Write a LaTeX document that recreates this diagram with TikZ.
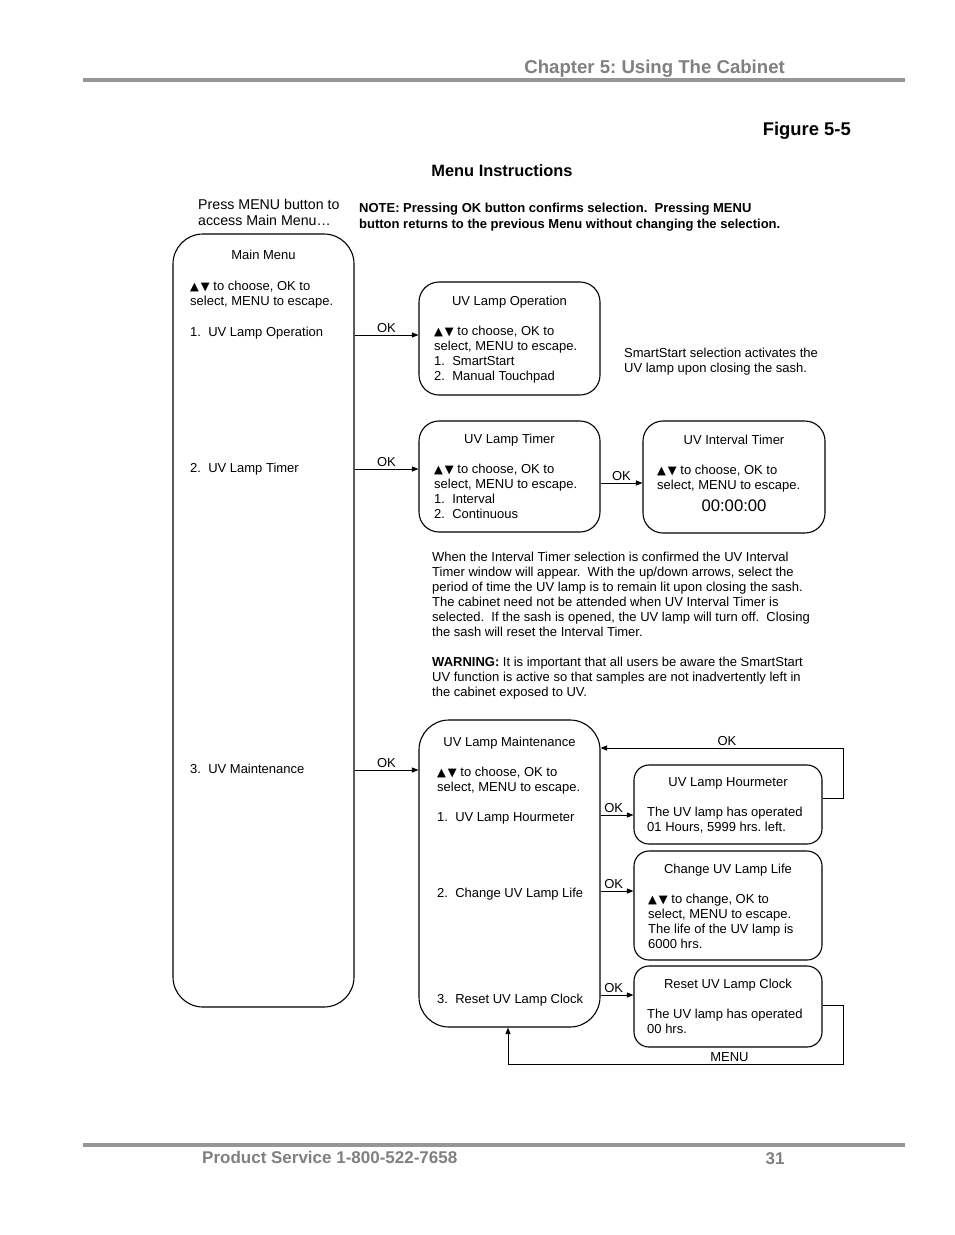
\documentclass[tikz,border=0pt]{standalone}
\usepackage{fontspec}
\setmainfont{Liberation Sans}
\newfontfamily\symfont{DejaVu Sans}
\usetikzlibrary{positioning}
\usetikzlibrary{arrows.meta}
\frenchspacing

\definecolor{pagegray}{RGB}{128,128,128}
\definecolor{rulegray}{RGB}{150,150,150}

\newcommand{\updown}{{\symfont\fontsize{11.5}{15}\selectfont ▲\,▼}}

\tikzset{
	menubox/.style = {draw, line width = 1.1pt, inner sep = 0pt, rounded corners = 20pt},
	boxtitle/.style = {font = \fontsize{13}{15}\selectfont, inner sep = 0pt, anchor = base},
	boxtext/.style = {font = \fontsize{13}{15}\selectfont, inner sep = 0pt, align = left, anchor = base west},
	okarrow/.style = {line width = 0.9pt, -{Triangle[length = 6.5pt, width = 5pt]}},
	oklabel/.style = {font = \fontsize{13}{15}\selectfont, inner sep = 2pt}
}

\begin{document}
\begin{tikzpicture}[x = 1pt, y = -1pt]
					\useasboundingbox [fill = white] (0, 0) rectangle (954, 1235);
					% page head and foot (multi-line texts sit on their last baseline)
					\node (chapter) at (785, 73) [anchor = base east, text = pagegray, font = \bfseries\fontsize{18.6}{20}\selectfont, inner sep = 0pt] {Chapter 5: Using The Cabinet};
					\draw [rulegray, line width = 4pt] (83, 80) -- (905, 80);
					\draw [rulegray, line width = 4pt] (83, 1145) -- (905, 1145);
					\node (service) at (202, 1163) [anchor = base west, text = pagegray, font = \bfseries\fontsize{17}{19}\selectfont, inner sep = 0pt] {Product Service 1-800-522-7658};
					\node (page) at (775, 1164) [anchor = base, text = pagegray, font = \bfseries\fontsize{17}{19}\selectfont, inner sep = 0pt] {31};
					\node (figure) at (851, 135) [anchor = base east, font = \bfseries\fontsize{18.4}{20}\selectfont, inner sep = 0pt] {Figure 5-5};
					\node (heading) at (502, 176) [anchor = base, font = \bfseries\fontsize{16.4}{18}\selectfont, inner sep = 0pt] {Menu Instructions};
					\node (press) at (198, 225) [anchor = base west, align = left, font = \fontsize{14.2}{16}\selectfont, inner sep = 0pt] {Press MENU button to\\access Main Menu\ldots};
					\node (note) at (359, 228) [anchor = base west, align = left, font = \bfseries\fontsize{13}{16}\selectfont, inner sep = 0pt] {NOTE: Pressing OK button confirms selection.\ \ Pressing MENU\\button returns to the previous Menu without changing the selection.};

					% main menu
					\node (main) at (263.5, 620.5) [menubox, rounded corners = 30pt, minimum width = 181pt, minimum height = 773pt] {};
					\node (maintitle) at (263.5, 259.5) [boxtitle] {Main Menu};
					\node (maintext) at (190, 305) [boxtext] {\updown\ to choose, OK to\\select, MENU to escape.};
					\node (mainone) at (190, 336) [boxtext] {1.\ \ UV Lamp Operation};
					\node (maintwo) at (190, 472) [boxtext] {2.\ \ UV Lamp Timer};
					\node (mainthree) at (190, 773) [boxtext] {3.\ \ UV Maintenance};

					% uv lamp operation
					\node (operation) at (509.5, 338.5) [menubox, minimum width = 181pt, minimum height = 113pt] {};
					\node (optitle) at (509.5, 305) [boxtitle] {UV Lamp Operation};
					\node (optext) at (434, 380) [boxtext] {\updown\ to choose, OK to\\select, MENU to escape.\\1.\ \ SmartStart\\2.\ \ Manual Touchpad};
					\node (smartnote) at (624, 372) [boxtext] {SmartStart selection activates the\\UV lamp upon closing the sash.};

					% uv lamp timer
					\node (timer) at (509.5, 476.5) [menubox, minimum width = 181pt, minimum height = 111pt] {};
					\node (timertitle) at (509.5, 443) [boxtitle] {UV Lamp Timer};
					\node (timertext) at (434, 518) [boxtext] {\updown\ to choose, OK to\\select, MENU to escape.\\1.\ \ Interval\\2.\ \ Continuous};
					\node (interval) at (734, 477) [menubox, minimum width = 182pt, minimum height = 112pt] {};
					\node (intervaltitle) at (734, 444) [boxtitle] {UV Interval Timer};
					\node (intervaltext) at (657, 489) [boxtext] {\updown\ to choose, OK to\\select, MENU to escape.};
					\node (clock) at (734, 511) [boxtitle, font = \fontsize{16.7}{18}\selectfont] {00:00:00};
					\node (intervalnote) at (432, 636) [boxtext] {When the Interval Timer selection is confirmed the UV Interval\\Timer window will appear.\ \ With the up/down arrows, select the\\period of time the UV lamp is to remain lit upon closing the sash.\\The cabinet need not be attended when UV Interval Timer is\\selected.\ \ If the sash is opened, the UV lamp will turn off.\ \ Closing\\the sash will reset the Interval Timer.};
					\node (warning) at (432, 696) [boxtext] {\textbf{WARNING:} It is important that all users be aware the SmartStart\\UV function is active so that samples are not inadvertently left in\\the cabinet exposed to UV.};

					% uv lamp maintenance
					\node (maint) at (509.5, 873.5) [menubox, rounded corners = 30pt, minimum width = 181pt, minimum height = 307pt] {};
					\node (mainttitle) at (509.5, 746) [boxtitle] {UV Lamp Maintenance};
					\node (mainttext) at (437, 791) [boxtext] {\updown\ to choose, OK to\\select, MENU to escape.};
					\node (maintone) at (437, 821) [boxtext] {1.\ \ UV Lamp Hourmeter};
					\node (mainttwo) at (437, 897) [boxtext] {2.\ \ Change UV Lamp Life};
					\node (maintthree) at (437, 1003) [boxtext] {3.\ \ Reset UV Lamp Clock};
					\node (hour) at (728, 804.5) [menubox, rounded corners = 15pt, minimum width = 188pt, minimum height = 79pt] {};
					\node (hourtitle) at (728, 786) [boxtitle] {UV Lamp Hourmeter};
					\node (hourtext) at (647, 831) [boxtext] {The UV lamp has operated\\01 Hours, 5999 hrs. left.};
					\node (life) at (728, 905.5) [menubox, rounded corners = 15pt, minimum width = 188pt, minimum height = 109pt] {};
					\node (lifetitle) at (728, 873) [boxtitle] {Change UV Lamp Life};
					\node (lifetext) at (648, 948) [boxtext] {\updown\ to change, OK to\\select, MENU to escape.\\The life of the UV lamp is\\6000 hrs.};
					\node (reset) at (728, 1006.5) [menubox, rounded corners = 15pt, minimum width = 188pt, minimum height = 81pt] {};
					\node (resettitle) at (728, 988) [boxtitle] {Reset UV Lamp Clock};
					\node (resettext) at (647, 1033) [boxtext] {The UV lamp has operated\\00 hrs.};

					% connectors
					\draw [okarrow] ([yshift = 285.5pt] main.east) -- node [oklabel, above] {OK} ([yshift = 3.5pt] operation.west);
					\draw [okarrow] ([yshift = 151.5pt] main.east) -- node [oklabel, above] {OK} ([yshift = 7.5pt] timer.west);
					\draw [okarrow] ([yshift = -149.5pt] main.east) -- node [oklabel, above] {OK} ([yshift = 103.5pt] maint.west);
					\draw [okarrow] ([yshift = -6.5pt] timer.east) -- node [oklabel, above] {OK} ([yshift = -6pt] interval.west);
					\draw [okarrow] ([yshift = 58.5pt] maint.east) -- node [oklabel, above, pos = 0.4] {OK} ([yshift = -10.5pt] hour.west);
					\draw [okarrow] ([yshift = -17.5pt] maint.east) -- node [oklabel, above, pos = 0.4] {OK} ([yshift = 14.5pt] life.west);
					\draw [okarrow] ([yshift = -121.5pt] maint.east) -- node [oklabel, above, pos = 0.4] {OK} ([yshift = 11.5pt] reset.west);
					\draw [okarrow] ([yshift = 6.5pt] hour.east) -- ++(21, 0) |- node [oklabel, above, pos = 0.74] {OK} ([yshift = 125.5pt] maint.east);
					\draw [okarrow] ([yshift = 1.5pt] reset.east) -- ++(21, 0) -- ++(0, 59) -| node [oklabel, above, pos = 0.17] {MENU} ([xshift = -1.5pt] maint.south);
				\end{tikzpicture}
\end{document}
